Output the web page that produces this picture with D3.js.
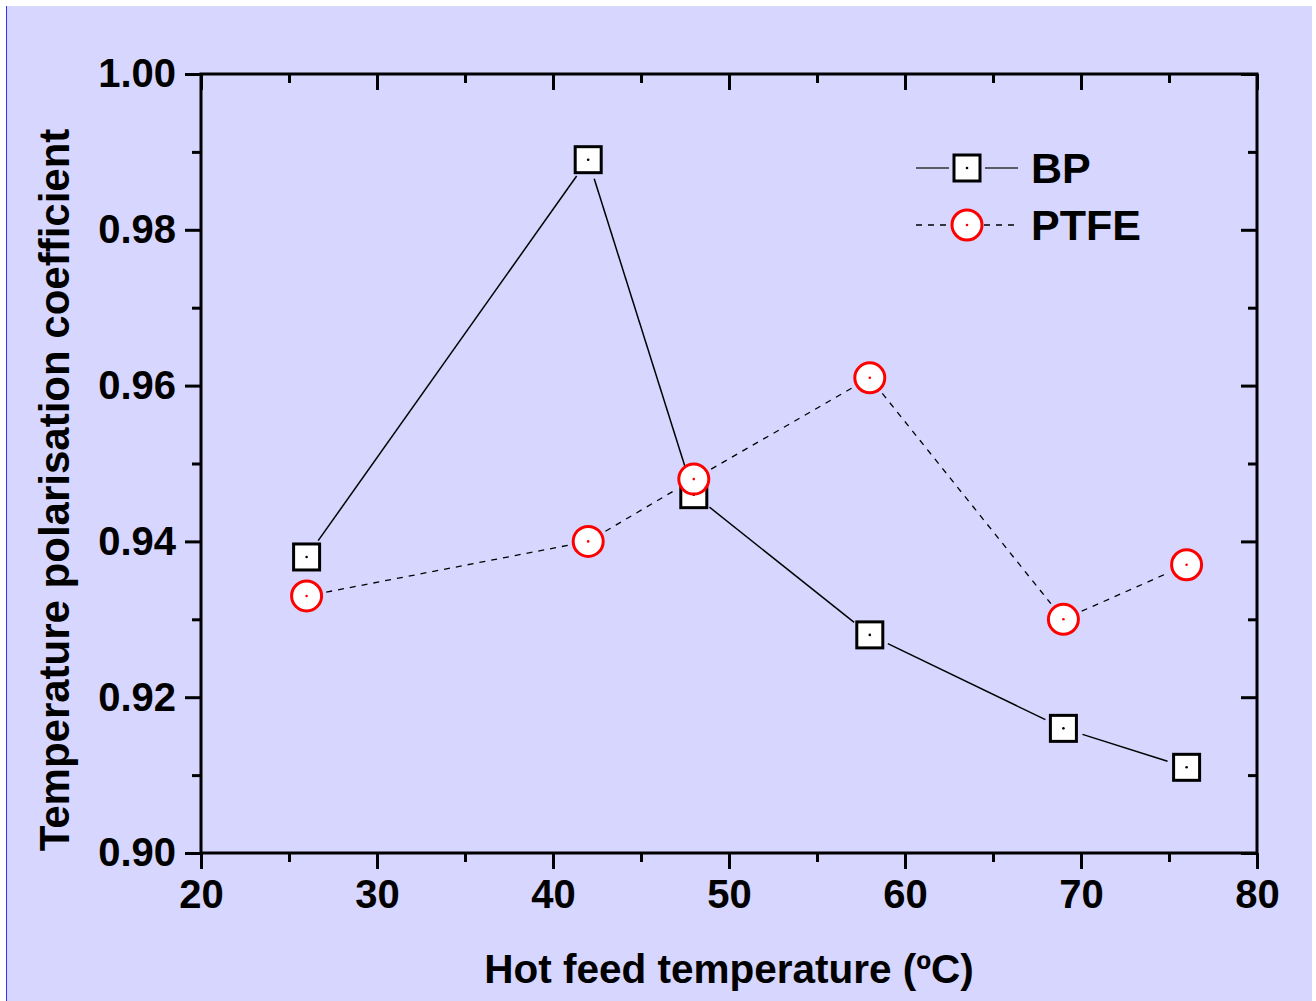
<!DOCTYPE html>
<html>
<head>
<meta charset="utf-8">
<script src="https://cdn.jsdelivr.net/npm/d3@7"></script>
<style>
  body { margin: 0; background: #fff; }
  svg { display: block; }
  text { font-family: "Liberation Sans", Arial, sans-serif; font-weight: bold; fill: #000; }
</style>
</head>
<body>
<div id="chart"></div>
<script>
const temps = [26, 42, 48, 58, 69, 76];
const bpValues = [0.938, 0.989, 0.946, 0.928, 0.916, 0.911];
const ptfeValues = [0.933, 0.940, 0.948, 0.961, 0.930, 0.937];
const xTicks = [20, 30, 40, 50, 60, 70, 80];
const xMinor = [25, 35, 45, 55, 65, 75];
const yTicks = [0.90, 0.92, 0.94, 0.96, 0.98, 1.00];
const yMinor = [0.91, 0.93, 0.95, 0.97, 0.99];
const seriesNames = ['BP', 'PTFE'];

const W = 1316, H = 1001;
const margin = { top: 74, right: 59, bottom: 148, left: 201 };

const svg = d3.select('#chart')
  .append('svg')
  .attr('width', W)
  .attr('height', H);

// Background panel
svg.append('rect')
  .attr('x', 6).attr('y', 6)
  .attr('width', 1306).attr('height', H - 6)
  .attr('fill', '#d6d6fe');
svg.append('line')
  .attr('x1', 6.5).attr('x2', 6.5)
  .attr('y1', 6).attr('y2', H)
  .attr('stroke', '#3333ff').attr('stroke-width', 1);

const x = d3.scaleLinear().domain([20, 80]).range([margin.left, W - margin.right]);
const y = d3.scaleLinear().domain([0.90, 1.00]).range([H - margin.bottom, margin.top]);

// Axes
function styleAxis(g) {
  g.select('.domain').remove();
  g.selectAll('.tick line').attr('stroke', '#000').attr('stroke-width', 3);
  g.selectAll('.tick text').style('font-size', '40px');
}

svg.append('g')
  .attr('transform', `translate(0,${y(0.90)})`)
  .call(d3.axisBottom(x).tickValues(xTicks).tickSize(16).tickPadding(11).tickFormat(d3.format('d')))
  .call(styleAxis);
svg.append('g')
  .attr('transform', `translate(0,${y(0.90)})`)
  .call(d3.axisBottom(x).tickValues(xMinor).tickSize(9).tickFormat(''))
  .call(styleAxis);

svg.append('g')
  .attr('transform', `translate(${x(20)},0)`)
  .call(d3.axisLeft(y).tickValues(yTicks).tickSize(16).tickPadding(9).tickFormat(d3.format('.2f')))
  .call(styleAxis);
svg.append('g')
  .attr('transform', `translate(${x(20)},0)`)
  .call(d3.axisLeft(y).tickValues(yMinor).tickSize(9).tickFormat(''))
  .call(styleAxis);

// Mirror axes, ticks pointing inward
svg.append('g')
  .attr('transform', `translate(0,${y(1.00)})`)
  .call(d3.axisTop(x).tickValues(xTicks).tickSize(-16).tickFormat(''))
  .call(styleAxis);
svg.append('g')
  .attr('transform', `translate(0,${y(1.00)})`)
  .call(d3.axisTop(x).tickValues(xMinor).tickSize(-9).tickFormat(''))
  .call(styleAxis);
svg.append('g')
  .attr('transform', `translate(${x(80)},0)`)
  .call(d3.axisRight(y).tickValues(yTicks).tickSize(-16).tickFormat(''))
  .call(styleAxis);
svg.append('g')
  .attr('transform', `translate(${x(80)},0)`)
  .call(d3.axisRight(y).tickValues(yMinor).tickSize(-9).tickFormat(''))
  .call(styleAxis);

// Frame
svg.append('rect')
  .attr('x', x(20)).attr('y', y(1.00))
  .attr('width', x(80) - x(20)).attr('height', y(0.90) - y(1.00))
  .attr('fill', 'none').attr('stroke', '#000').attr('stroke-width', 3);

// Axis titles
svg.append('text')
  .attr('x', 729)
  .attr('y', 983)
  .attr('text-anchor', 'middle')
  .style('font-size', '40.5px')
  .text('Hot feed temperature (ºC)');

svg.append('text')
  .attr('transform', `translate(69,490) rotate(-90)`)
  .attr('text-anchor', 'middle')
  .style('font-size', '42px')
  .text('Temperature polarisation coefficient');

// Line segments with a small gap around each marker
function segments(vals, gap) {
  const pts = temps.map((t, i) => [x(t), y(vals[i])]);
  const segs = [];
  for (let i = 0; i < pts.length - 1; i++) {
    const [x1, y1] = pts[i], [x2, y2] = pts[i + 1];
    const len = Math.hypot(x2 - x1, y2 - y1);
    const ux = (x2 - x1) / len, uy = (y2 - y1) / len;
    segs.push({ x1: x1 + ux * gap, y1: y1 + uy * gap, x2: x2 - ux * gap, y2: y2 - uy * gap });
  }
  return segs;
}

svg.append('g')
  .selectAll('line')
  .data(segments(bpValues, 20))
  .enter()
  .append('line')
  .attr('x1', d => d.x1).attr('y1', d => d.y1)
  .attr('x2', d => d.x2).attr('y2', d => d.y2)
  .attr('stroke', '#000').attr('stroke-width', 1.5);

svg.append('g')
  .selectAll('line')
  .data(segments(ptfeValues, 20))
  .enter()
  .append('line')
  .attr('x1', d => d.x1).attr('y1', d => d.y1)
  .attr('x2', d => d.x2).attr('y2', d => d.y2)
  .attr('stroke', '#000').attr('stroke-width', 1.3)
  .attr('stroke-dasharray', '6,6');

// Markers
function square(g, cx, cy) {
  g.append('rect')
    .attr('x', cx - 13).attr('y', cy - 13)
    .attr('width', 26).attr('height', 26)
    .attr('fill', '#fff').attr('stroke', '#000').attr('stroke-width', 3);
  g.append('circle').attr('cx', cx).attr('cy', cy).attr('r', 1.3).attr('fill', '#000');
}
function ring(g, cx, cy) {
  g.append('circle')
    .attr('cx', cx).attr('cy', cy).attr('r', 15)
    .attr('fill', '#fff').attr('stroke', '#ff0000').attr('stroke-width', 3);
  g.append('circle').attr('cx', cx).attr('cy', cy).attr('r', 1.3).attr('fill', '#ff0000');
}

const bpG = svg.append('g');
temps.forEach((t, i) => square(bpG, x(t), y(bpValues[i])));
const ptfeG = svg.append('g');
temps.forEach((t, i) => ring(ptfeG, x(t), y(ptfeValues[i])));

// Legend
const legend = svg.append('g');
const legY = [168, 225];
legend.append('line').attr('x1', 916).attr('x2', 949).attr('y1', legY[0]).attr('y2', legY[0])
  .attr('stroke', '#333').attr('stroke-width', 1.5);
legend.append('line').attr('x1', 985).attr('x2', 1018).attr('y1', legY[0]).attr('y2', legY[0])
  .attr('stroke', '#333').attr('stroke-width', 1.5);
square(legend, 967, legY[0]);
legend.append('line').attr('x1', 916).attr('x2', 950).attr('y1', legY[1]).attr('y2', legY[1])
  .attr('stroke', '#000').attr('stroke-width', 1.3).attr('stroke-dasharray', '6,6');
legend.append('line').attr('x1', 984).attr('x2', 1018).attr('y1', legY[1]).attr('y2', legY[1])
  .attr('stroke', '#000').attr('stroke-width', 1.3).attr('stroke-dasharray', '6,6');
ring(legend, 967, legY[1]);
seriesNames.forEach((name, i) => {
  legend.append('text')
    .attr('x', 1031).attr('y', legY[i] + 15)
    .style('font-size', '43px')
    .text(name);
});
</script>
</body>
</html>
